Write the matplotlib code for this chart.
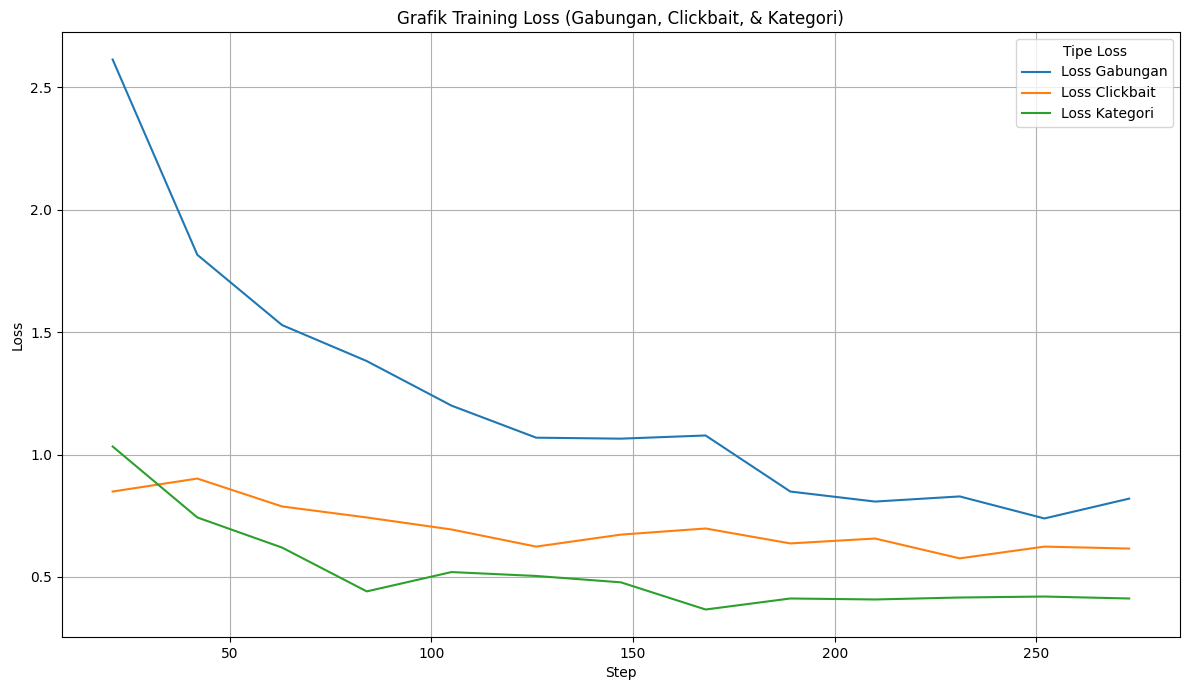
import matplotlib
matplotlib.use("Agg")
import matplotlib.pyplot as plt

steps = [21, 42, 63, 84, 105, 126, 147, 168, 189, 210, 231, 252, 273]
loss_gabungan = [2.614, 1.816, 1.529, 1.382, 1.200, 1.069, 1.065, 1.078, 0.849, 0.808, 0.829, 0.739, 0.820]
loss_clickbait = [0.849, 0.902, 0.788, 0.743, 0.694, 0.624, 0.673, 0.698, 0.637, 0.657, 0.576, 0.624, 0.616]
loss_kategori = [1.033, 0.743, 0.620, 0.441, 0.520, 0.504, 0.478, 0.367, 0.412, 0.408, 0.416, 0.420, 0.412]

fig, ax = plt.subplots(figsize=(11.89, 6.9), dpi=100)

ax.plot(steps, loss_gabungan, label="Loss Gabungan")
ax.plot(steps, loss_clickbait, label="Loss Clickbait")
ax.plot(steps, loss_kategori, label="Loss Kategori")

ax.set_title("Grafik Training Loss (Gabungan, Clickbait, & Kategori)")
ax.set_xlabel("Step")
ax.set_ylabel("Loss")
ax.legend(title="Tipe Loss", loc="upper right")
ax.grid(True)

fig.subplots_adjust(left=0.052, right=0.9924, top=0.9536, bottom=0.0768)
fig.savefig("out.png", dpi=100)
